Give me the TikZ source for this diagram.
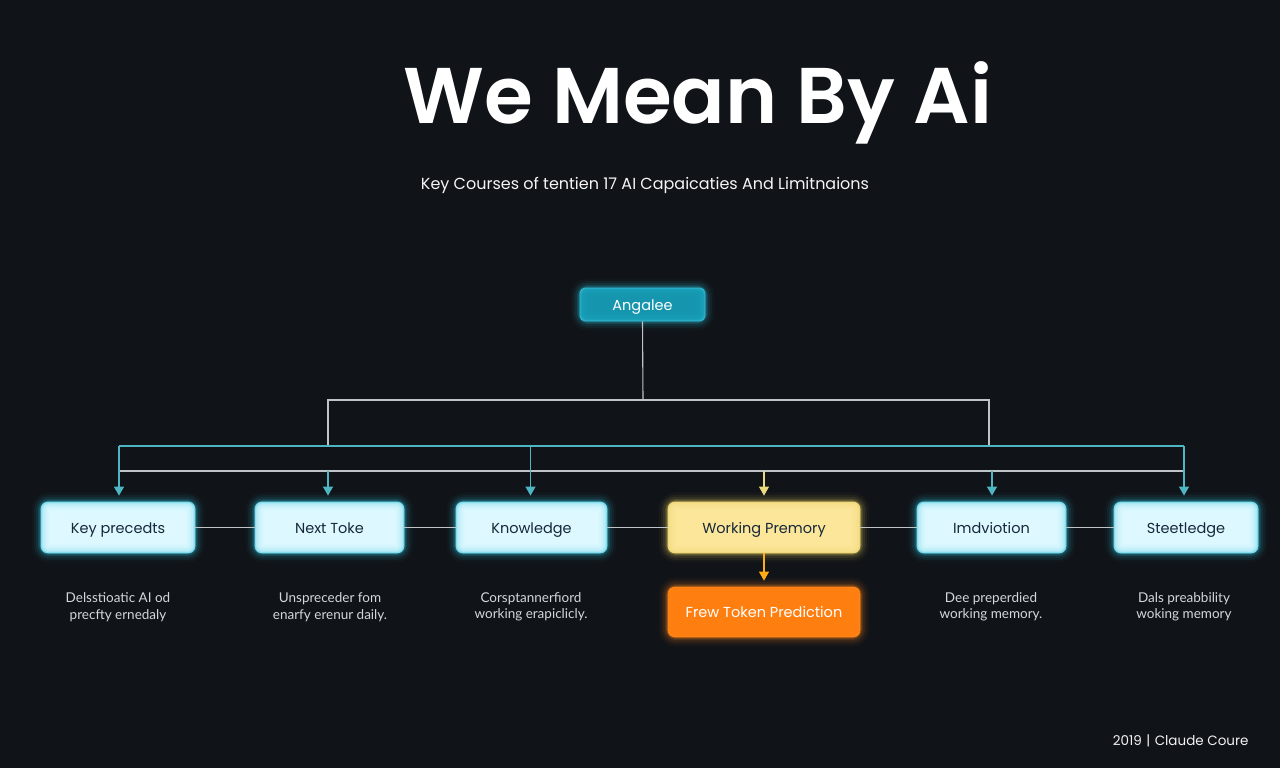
\documentclass[tikz,border=0pt]{standalone}
\usepackage{fontspec}
\setmainfont{Poppins}
\newfontfamily\descfont{Lato}
\newfontfamily\titlefont{Poppins SemiBold}
\usetikzlibrary{arrows.meta}
\definecolor{bg}{HTML}{101318}
\definecolor{tealline}{HTML}{4DB6C2}
\definecolor{grayline}{HTML}{BFC4C8}
\definecolor{angfill}{HTML}{1596AE}
\definecolor{boxfill}{HTML}{DDF9FF}
\definecolor{glowc}{HTML}{2CC4DE}
\definecolor{yelfill}{HTML}{FCE69A}
\definecolor{yelglow}{HTML}{E6CF5E}
\definecolor{orfill}{HTML}{FF7E10}
\definecolor{orglow}{HTML}{FF8A1E}
\definecolor{boxtext}{HTML}{16283A}
\definecolor{desctext}{HTML}{D4D8DB}
\tikzset{
  cardbox/.style={rounded corners=7pt, fill=boxfill, draw=boxfill!80!glowc, line width=0.8pt,
    minimum height=51pt, text=boxtext, font=\fontsize{14.5}{16}\selectfont, inner sep=0pt,
    text height=13pt, text depth=2pt},
  desc/.style={text=desctext, font=\descfont\fontsize{13.5}{16.5}\selectfont, align=center},
  tline/.style={draw=tealline, line width=1.3pt},
  gline/.style={draw=grayline, line width=1.1pt},
  tarrow/.style={tline, shorten >=6pt, -{Triangle[width=10pt,length=9pt]}},
  yarrow/.style={draw=#1, line width=1.1pt, shorten >=6pt, -{Triangle[width=10pt,length=9pt]}},
}
\newcommand{\glowbox}[2]{%
  \foreach \w/\o in {18/0.04,13/0.06,9/0.09,5/0.14,2.5/0.22}{
    \draw[#2, opacity=\o, line width=\w pt, rounded corners=8pt]
      (#1.south west) rectangle (#1.north east);
  }}
\begin{document}
\begin{tikzpicture}[x=1pt,y=-1pt]
\fill[bg] (0,0) rectangle (1280,768);
\useasboundingbox (0,0) rectangle (1280,768);

% title and subtitle
\node[text=white, font=\titlefont\fontsize{79}{80}\selectfont] (title) at (698,103) {We Mean By Ai};
\node[text=white!92!gray, font=\fontsize{16}{18}\selectfont] (sub) at (645,185) {Key Courses of tentien 17 AI Capaicaties And Limitnaions};

% root
\node[rounded corners=5pt, fill=angfill, draw=angfill!80!white, line width=0.8pt,
  minimum width=125pt, minimum height=33pt, text=white, font=\fontsize{14.5}{16}\selectfont,
  inner sep=0pt, text height=13pt, text depth=2pt] (ang) at (642.5,304.5) {Angalee};
\glowbox{ang}{glowc}

% cards
\node[cardbox, minimum width=154pt] (kp) at (118,527.5) {Key precedts};
\node[cardbox, minimum width=149pt] (nt) at (329.5,527.5) {Next Toke};
\node[cardbox, minimum width=151pt] (kn) at (531.5,527.5) {Knowledge};
\node[cardbox, minimum width=192pt, fill=yelfill, draw=yelfill!80!yelglow] (wp) at (764,527.5) {Working Premory};
\node[cardbox, minimum width=149pt] (im) at (991.5,527.5) {Imdviotion};
\node[cardbox, minimum width=144pt] (st) at (1186,527.5) {Steetledge};
\node[cardbox, fill=orfill, draw=orfill, minimum width=192pt, minimum height=50pt,
  text=white] (ftp) at (764,612) {Frew Token Prediction};

\glowbox{kp}{glowc}
\glowbox{nt}{glowc}
\glowbox{kn}{glowc}
\glowbox{wp}{yelglow}
\glowbox{im}{glowc}
\glowbox{st}{glowc}
\glowbox{ftp}{orglow}

% coordinates
\coordinate (r1) at (643,400);
\coordinate (bl) at (328,400);
\coordinate (br) at (989,400);
\coordinate (blb) at (328,446);
\coordinate (brb) at (989,446);
\coordinate (t1) at (119,446);
\coordinate (t2) at (530.5,446);
\coordinate (t3) at (1184,446);
\coordinate (g1) at (119,471);
\coordinate (g2) at (328,471);
\coordinate (g3) at (764,471);
\coordinate (g4) at (992,471);
\coordinate (g5) at (1184,471);

% connectors
\draw[gline] (ang.south) -- (r1);
\draw[gline] (blb) -- (bl) -- (br) -- (brb);
\draw[tline] (t1) -- (t3);
\draw[gline] (g1) -- (g5);
\draw[tarrow] (t1) -- (t1 |- kp.north);
\draw[tarrow] (t2) -- (t2 |- kn.north);
\draw[tarrow] (t3) -- (t3 |- st.north);
\draw[tarrow] (g2) -- (g2 |- nt.north);
\draw[yarrow=yelglow!80!white] (g3) -- (wp.north);
\draw[tarrow] (g4) -- (g4 |- im.north);
\draw[gline] (kp.east) -- (nt.west);
\draw[gline] (nt.east) -- (kn.west);
\draw[gline] (kn.east) -- (wp.west);
\draw[gline] (wp.east) -- (im.west);
\draw[gline] (im.east) -- (st.west);
\draw[yarrow=orglow!70!yellow] (wp.south) -- (ftp.north);

% descriptions
\node[desc] (d1) at (118,607) {Delsstioatic AI od\\precfty ernedaly};
\node[desc] (d2) at (330,607) {Unspreceder fom\\enarfy erenur daily.};
\node[desc] (d3) at (531,607) {Corsptannerfiord\\working erapiclicly.};
\node[desc] (d4) at (991,607) {Dee preperdied\\working memory.};
\node[desc] (d5) at (1184,607) {Dals preabbility\\woking memory};

% footer
\node[text=white!90!gray, font=\fontsize{13.5}{15}\selectfont, anchor=east] (foot) at (1252,741) {2019\,\,|\,\,Claude Coure};
\end{tikzpicture}
\end{document}
